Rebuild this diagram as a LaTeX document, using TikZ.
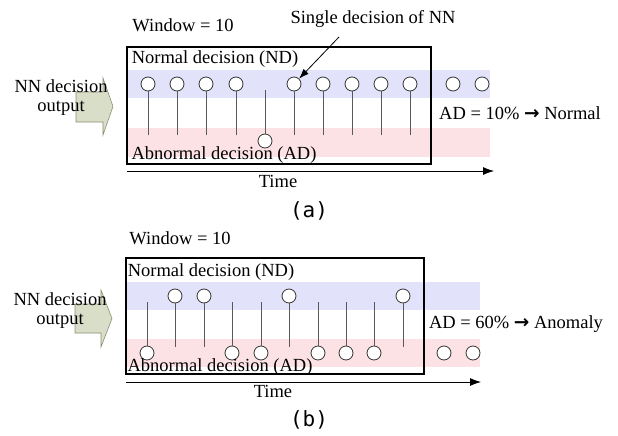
\documentclass[tikz,border=0pt]{standalone}
\usepackage{fontspec}
\setmainfont{Liberation Serif}
\newfontfamily\capfont{DejaVu Sans Mono}
\newfontfamily\arrowfont{DejaVu Sans}
\usetikzlibrary{arrows.meta}
\definecolor{ndband}{RGB}{226,226,250}
\definecolor{adband}{RGB}{252,226,228}
\definecolor{arrowfill}{RGB}{216,222,200}
\definecolor{arrowline}{RGB}{140,142,112}

\begin{document}
\begin{tikzpicture}[x=1pt, y=-1pt,
    font=\fontsize{18.5}{19}\selectfont,
    dec/.style={circle, draw=black!80, fill=white, line width=0.8pt, minimum size=14pt, inner sep=0pt},
    stem/.style={draw=black!65, line width=0.8pt},
    winbox/.style={draw, line width=2.2pt},
    timeline/.style={line width=0.8pt, -{Latex[length=11pt, width=8pt]}},
    pointer/.style={line width=0.8pt, -{Latex[length=10pt, width=7pt]}},
    bigarrow/.style={fill=arrowfill, draw=arrowline, line width=0.6pt},
    txt/.style={inner sep=0pt},
    caption/.style={inner sep=0pt, font=\capfont\fontsize{21}{22}\selectfont}]
    \useasboundingbox (0,0) rectangle (618,436);

    \fill[ndband] (127,70) rectangle (490,98);
    \fill[adband] (127,128) rectangle (490,157);
    \draw[winbox] (127,47) rectangle (431,164);
    \foreach \i/\x in {1/148,2/177,3/206,4/236,6/294,7/323,8/352,9/381,10/410} {
        \node[dec] (a\i) at (\x,84) {};
        \coordinate (a\i s) at (\x,135);
        \draw[stem] (a\i) -- (a\i s);
    }
    \node[dec] (a5) at (265,141) {};
    \coordinate (a5s) at (265,90);
    \draw[stem] (a5s) -- (a5);
    \node[dec] (a11) at (453,84) {};
    \node[dec] (a12) at (482,84) {};
    \node[txt] (wina) at (183,25) {Window = 10};
    \node[txt] (single) at (373,19) {Single decision of NN};
    \coordinate (singletail) at (339,37);
    \draw[pointer] (singletail) -- (a6);
    \node[txt] (nda) at (215,59) {Normal decision (ND)};
    \node[txt] (ada) at (224,155) {Abnormal decision (AD)};
    \coordinate (ta0) at (127,171);
    \coordinate (ta1) at (494,171);
    \draw[timeline] (ta0) -- (ta1);
    \node[txt] (timea) at (278,181) {Time};
    \node[txt] (resa) at (520,113) {AD = 10\% {\arrowfont\bfseries →} Normal};
    \node[caption] (capa) at (309,211) {(a)};
    \draw[bigarrow] (76,92) -- (103,92) -- (103,78) -- (113,106.5) -- (103,135) -- (103,122) -- (76,122) -- cycle;
    \node[txt, align=center] (nna) at (61,98) {NN decision\\output};

    \fill[ndband] (126,282) rectangle (480,310);
    \fill[adband] (126,339) rectangle (480,367);
    \draw[winbox] (126,258) rectangle (424,374);
    \foreach \i/\x in {2/175,3/204,6/289,10/403} {
        \node[dec] (b\i) at (\x,296) {};
        \coordinate (b\i s) at (\x,347);
        \draw[stem] (b\i) -- (b\i s);
    }
    \foreach \i/\x in {1/147,4/232,5/261,7/318,8/346,9/374} {
        \node[dec] (b\i) at (\x,353) {};
        \coordinate (b\i s) at (\x,302);
        \draw[stem] (b\i s) -- (b\i);
    }
    \node[dec] (b11) at (444,353) {};
    \node[dec] (b12) at (473,353) {};
    \node[txt] (winb) at (180,238) {Window = 10};
    \node[txt] (ndb) at (211,272) {Normal decision (ND)};
    \node[txt] (adb) at (220,367) {Abnormal decision (AD)};
    \coordinate (tb0) at (126,382);
    \coordinate (tb1) at (481,382);
    \draw[timeline] (tb0) -- (tb1);
    \node[txt] (timeb) at (273,391) {Time};
    \node[txt] (resb) at (516,324) {AD = 60\% {\arrowfont\bfseries →} Anomaly};
    \node[caption] (capb) at (309,420) {(b)};
    \draw[bigarrow] (75,304) -- (101,304) -- (101,290) -- (112,318.5) -- (101,347) -- (101,333) -- (75,333) -- cycle;
    \node[txt, align=center] (nnb) at (60,311) {NN decision\\output};
\end{tikzpicture}
\end{document}
